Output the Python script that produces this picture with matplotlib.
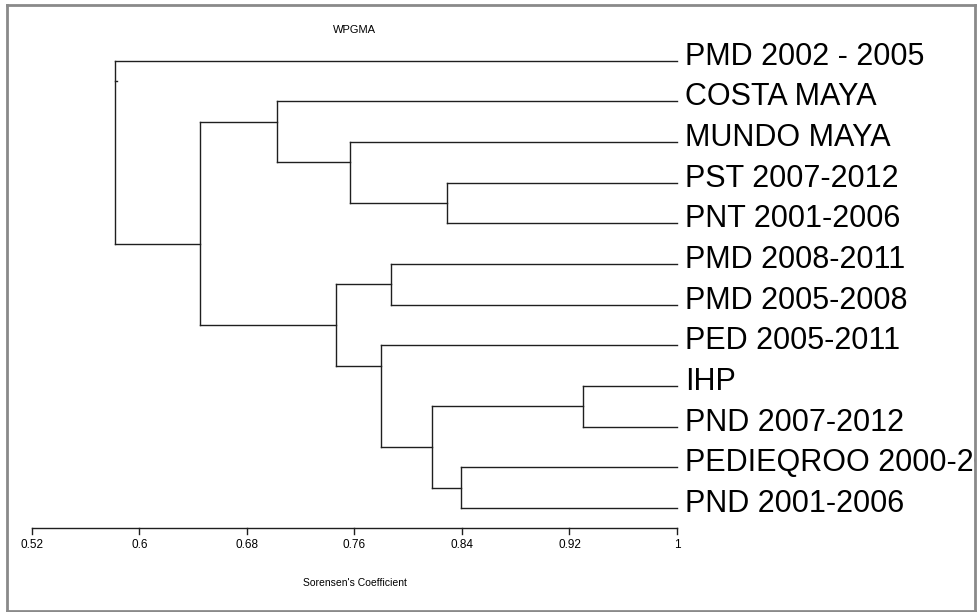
import matplotlib
matplotlib.use("Agg")
import matplotlib.pyplot as plt

plt.rcParams['font.family'] = ['Liberation Sans', 'DejaVu Sans']

# leaf labels, top to bottom
leaves = ["PMD 2002 - 2005", "COSTA MAYA", "MUNDO MAYA", "PST 2007-2012",
          "PNT 2001-2006", "PMD 2008-2011", "PMD 2005-2008", "PED 2005-2011",
          "IHP", "PND 2007-2012", "PEDIEQROO 2000-2005", "PND 2001-2006"]

# WPGMA merges: node ids 0-11 are leaves, each merge creates the next id (12, 13, ...)
merge_a = [3, 2, 1, 5, 8, 10, 16, 7, 15, 14, 0]
merge_b = [4, 12, 13, 6, 9, 11, 17, 18, 19, 20, 21]
merge_sim = [0.829, 0.757, 0.702, 0.787, 0.930, 0.839, 0.818, 0.780, 0.746, 0.645, 0.582]

ticks = [0.52, 0.6, 0.68, 0.76, 0.84, 0.92, 1.0]
tick_labels = ["0.52", "0.6", "0.68", "0.76", "0.84", "0.92", "1"]

fig = plt.figure(figsize=(9.8, 6.12), dpi=100)
ax = fig.add_axes([7 / 980, 1 / 612, 968 / 980, 606 / 612])
ax.set_xlim(0.5014, 1.2218)
ax.set_ylim(13.53, -1.37)
ax.set_xticks([])
ax.set_yticks([])
for sp in ax.spines.values():
    sp.set_color('#8a8a8a')
    sp.set_linewidth(2)

lc = '#1f1f1f'
lw = 1.0

# node positions: x = similarity, y = boundary between the two children
xs = {i: 1.0 for i in range(len(leaves))}
ys = {i: float(i) for i in range(len(leaves))}
last_leaf = {i: i for i in range(len(leaves))}
for k, (a, b, s) in enumerate(zip(merge_a, merge_b, merge_sim)):
    node = len(leaves) + k
    xs[node] = s
    ys[node] = last_leaf[a] + 0.5
    last_leaf[node] = last_leaf[b]
    ax.plot([s, s], [ys[a], ys[b]], color=lc, lw=lw)
    for c in (a, b):
        ax.plot([xs[c], s], [ys[c], ys[c]], color=lc, lw=lw)

# small stub on the root
root = len(leaves) + len(merge_sim) - 1
ax.plot([xs[root], xs[root] + 0.0015], [ys[root], ys[root]], color=lc, lw=lw)

# labels run past the frame and get clipped by it
for i, name in enumerate(leaves):
    ax.text(1.0063, i + 0.1, name, fontsize=22, va='baseline', ha='left',
            color='black', clip_on=True)

# similarity scale
y_axis = 11.49
ax.plot([ticks[0], ticks[-1]], [y_axis, y_axis], color=lc, lw=lw)
for t, lab in zip(ticks, tick_labels):
    ax.plot([t, t], [y_axis, y_axis + 0.15], color=lc, lw=lw)
    ax.text(t, 11.91, lab, fontsize=8.5, ha='center', va='center')

ax.text(0.76, 12.84, "Sorensen's Coefficient", fontsize=7.5, ha='center', va='center')
ax.text(0.76, -0.76, "WPGMA", fontsize=8, ha='center', va='center')

fig.savefig("out.png", dpi=100)
